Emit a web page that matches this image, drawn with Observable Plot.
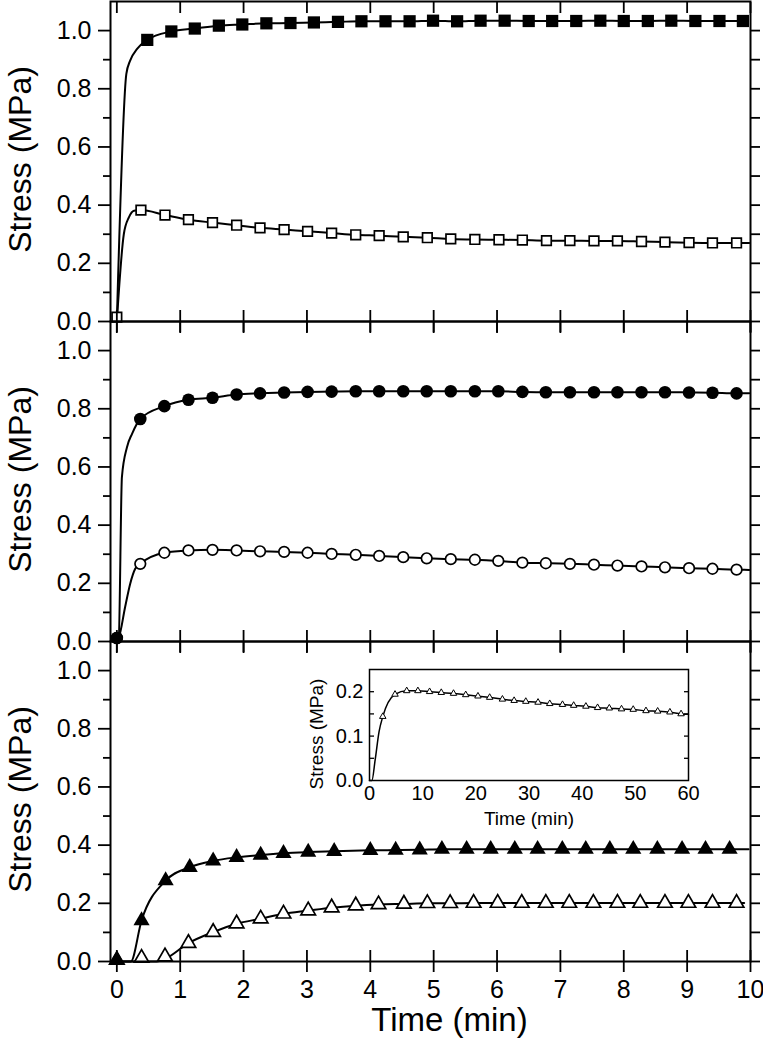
<!DOCTYPE html>
<html><head><meta charset="utf-8">
<script src="https://cdn.jsdelivr.net/npm/d3@7"></script>
<script src="https://cdn.jsdelivr.net/npm/@observablehq/plot@0.6"></script>
<style>
html,body{margin:0;padding:0;background:#fff;}
#chart{position:relative;width:763px;height:1048px;overflow:hidden;background:#fff;}
#chart svg{position:absolute;left:0;}
</style></head><body><div id="chart"></div>
<script>
// ---------- data ----------
const xTickValues = [0,1,2,3,4,5,6,7,8,9,10];
const yMajorTicks = [0,0.2,0.4,0.6,0.8,1.0];
const yMinorTicks = [0.1,0.3,0.5,0.7,0.9];
const yAllTicks = [0,0.1,0.2,0.3,0.4,0.5,0.6,0.7,0.8,0.9,1.0];
const yTitle = "Stress (MPa)";
const xTitle = "Time (min)";

// Panel 1: squares
const sqOpenX = [0,0.38,0.76,1.13,1.51,1.89,2.26,2.64,3.01,3.39,3.77,4.14,4.52,4.90,5.27,5.65,6.03,6.40,6.78,7.15,7.53,7.90,8.28,8.65,9.03,9.40,9.78];
const sqOpenY = [0.015,0.383,0.366,0.350,0.340,0.331,0.322,0.316,0.310,0.304,0.298,0.295,0.291,0.288,0.284,0.282,0.281,0.280,0.278,0.278,0.277,0.277,0.275,0.273,0.271,0.270,0.270];
const sqOpenLeadX = [0,0.11,0.19,0.27];
const sqOpenLeadY = [0,0.30,0.358,0.381];
const sqOpenTailX = [9.98];
const sqOpenTailY = [0.270];

const sqFilledX = [0.48,0.86,1.23,1.61,1.98,2.36,2.74,3.11,3.49,3.86,4.24,4.62,4.99,5.37,5.74,6.12,6.50,6.87,7.25,7.63,8.00,8.38,8.75,9.13,9.51,9.88];
const sqFilledY = [0.968,0.997,1.007,1.017,1.021,1.025,1.026,1.028,1.030,1.032,1.032,1.032,1.034,1.032,1.034,1.034,1.033,1.033,1.033,1.034,1.033,1.033,1.034,1.033,1.033,1.033];
const sqFilledLeadX = [0,0.15,0.21,0.32];
const sqFilledLeadY = [0,0.851,0.897,0.937];

// Panel 2: circles
const circX = [0,0.37,0.75,1.13,1.51,1.89,2.26,2.64,3.01,3.39,3.77,4.14,4.52,4.89,5.27,5.65,6.02,6.40,6.77,7.15,7.53,7.90,8.28,8.65,9.03,9.40,9.78];
const circFilledY = [0.012,0.765,0.809,0.831,0.838,0.849,0.853,0.856,0.858,0.859,0.860,0.860,0.860,0.860,0.860,0.860,0.860,0.858,0.857,0.857,0.857,0.857,0.857,0.857,0.856,0.855,0.853];
const circOpenY = [0.012,0.267,0.305,0.313,0.315,0.313,0.310,0.308,0.305,0.301,0.298,0.294,0.290,0.286,0.283,0.281,0.277,0.271,0.269,0.267,0.264,0.261,0.258,0.255,0.252,0.250,0.247];
const circFilledLeadX = [0,0.03,0.08,0.16,0.24];
const circFilledLeadY = [0.01,0.015,0.565,0.668,0.714];
const circOpenLeadX = [0,0.03,0.13,0.21,0.29];
const circOpenLeadY = [0.01,0.015,0.118,0.198,0.25];
const circFilledTailX = [9.98];
const circFilledTailY = [0.853];
const circOpenTailX = [9.98];
const circOpenTailY = [0.246];

// Panel 3: triangles
const triFilledX = [0,0.39,0.77,1.15,1.52,1.89,2.27,2.63,3.02,3.43,4.00,4.40,4.78,5.13,5.52,5.90,6.28,6.64,7.03,7.40,7.78,8.15,8.53,8.92,9.29,9.67];
const triFilledY = [0.005,0.141,0.278,0.324,0.346,0.358,0.366,0.372,0.376,0.379,0.382,0.383,0.384,0.386,0.386,0.386,0.386,0.386,0.386,0.386,0.386,0.386,0.386,0.386,0.386,0.386];
const triFilledLeadX = [0,0.22];
const triFilledLeadY = [0,0];
const triFilledTailX = [9.97];
const triFilledTailY = [0.386];

const triOpenX = [0,0.39,0.76,1.13,1.52,1.89,2.27,2.63,3.02,3.39,3.77,4.13,4.53,4.90,5.26,5.63,6.01,6.39,6.77,7.14,7.52,7.90,8.26,8.65,9.02,9.40,9.78];
const triOpenY = [0.005,0.012,0.017,0.063,0.101,0.130,0.147,0.164,0.175,0.185,0.192,0.196,0.198,0.200,0.200,0.201,0.201,0.201,0.201,0.201,0.201,0.201,0.201,0.201,0.201,0.201,0.201];
const triOpenLeadX = [0,0.63,0.76];
const triOpenLeadY = [0,0,0.009];
const triOpenTailX = [9.9];
const triOpenTailY = [0.201];

// Inset (60 min)
const insetX = [2.5,4.8,7.0,9.1,11.3,13.5,15.8,18.1,20.4,22.6,25.0,27.2,29.4,31.7,33.9,36.3,38.4,40.7,42.9,45.1,47.4,49.6,52.0,54.2,56.5,58.6];
const insetY = [0.144,0.194,0.202,0.202,0.200,0.198,0.196,0.193,0.190,0.187,0.183,0.180,0.178,0.176,0.173,0.171,0.169,0.167,0.164,0.163,0.161,0.160,0.157,0.156,0.154,0.150];
const insetLeadX = [0,0.45,1.07,1.8];
const insetLeadY = [0,0,0.047,0.11];
const insetTailX = [60];
const insetTailY = [0.149];
const insetXTicks = [0,10,20,30,40,50,60];
const insetYTicks = [0,0.1,0.2];
const insetYInner = [0.05,0.1,0.15,0.2];

// ---------- helpers ----------
const FONT = '"Liberation Sans", Arial, Helvetica, sans-serif';
const pts = (xs, ys) => xs.map((x, i) => ({x, y: ys[i]}));
function curvePts(leadX, leadY, mx, my, tailX = [], tailY = []) {
  const lead = pts(leadX, leadY);
  const m = lead.length ? lead[lead.length - 1].x : -Infinity;
  return [...lead, ...pts(mx, my).filter(d => d.x > m), ...pts(tailX, tailY)];
}
const chart = document.getElementById("chart");
const blank = () => "";

function panel({top, bottom, series, showX}) {
  const mt = 10, mb = showX ? 87 : 14;
  const marks = [];
  for (const s of series) marks.push(Plot.line(s.curve, {x: "x", y: "y", curve: "monotone-x", stroke: "#000", strokeWidth: 2}));
  for (const s of series.filter(s => s.open)) marks.push(Plot.dot(s.markers, {x: "x", y: "y", symbol: s.symbol, r: s.r, fill: "#fff", stroke: "#000", strokeWidth: 1.7}));
  for (const s of series.filter(s => !s.open)) marks.push(Plot.dot(s.markers, {x: "x", y: "y", symbol: s.symbol, r: s.r, fill: "#000", stroke: "none"}));
  marks.push(
    Plot.axisY(yMajorTicks, {anchor: "left", tickSize: 12, tickPadding: 7, tickFormat: d3.format(".1f"), fontSize: 25, label: null, strokeWidth: 1.8}),
    Plot.axisY(yMinorTicks, {anchor: "left", tickSize: 7, tickFormat: blank, label: null, strokeWidth: 1.8}),
    Plot.axisY(yAllTicks, {anchor: "right", tickSize: 9, tickFormat: blank, label: null, strokeWidth: 1.8}),
    Plot.axisX(xTickValues, {anchor: "top", tickSize: 11, dy: 11, tickFormat: blank, label: null, strokeWidth: 1.8}),
    Plot.axisX(xTickValues, {anchor: "bottom", tickSize: 11, dy: -11, tickFormat: blank, label: null, strokeWidth: 1.8}),
    Plot.axisX(xTickValues, {anchor: "bottom", tickSize: 11, tickPadding: 8, tickFormat: showX ? (d => String(d)) : blank, fontSize: 25, label: null, strokeWidth: 1.8}),
    Plot.frame({stroke: "#000", strokeWidth: 2}),
    Plot.text([yTitle], {text: d => d, frameAnchor: "left", textAnchor: "middle", lineAnchor: "middle", rotate: -90, dx: -90, dy: -2, fontSize: 32, fill: "#000"})
  );
  if (showX) marks.push(Plot.text([xTitle], {text: d => d, frameAnchor: "bottom", textAnchor: "middle", lineAnchor: "top", dy: 46, dx: 19, fontSize: 33, fill: "#000"}));
  const svg = Plot.plot({
    width: 763, height: mt + (bottom - top) + mb,
    marginTop: mt, marginBottom: mb, marginLeft: 110, marginRight: 13,
    x: {domain: [-0.1, 10]}, y: {domain: [0, 1.1]},
    style: {background: "transparent", overflow: "visible", fontFamily: FONT, color: "#000"},
    marks
  });
  svg.style.top = (top - mt) + "px";
  chart.appendChild(svg);
}

panel({top: 1, bottom: 321, showX: false, series: [
  {markers: pts(sqOpenX, sqOpenY), curve: curvePts(sqOpenLeadX, sqOpenLeadY, sqOpenX, sqOpenY, sqOpenTailX, sqOpenTailY), symbol: "square", r: 5.4, open: true},
  {markers: pts(sqFilledX, sqFilledY), curve: curvePts(sqFilledLeadX, sqFilledLeadY, sqFilledX, sqFilledY), symbol: "square", r: 6.9, open: false}
]});
panel({top: 321, bottom: 641, showX: false, series: [
  {markers: pts(circX, circOpenY), curve: curvePts(circOpenLeadX, circOpenLeadY, circX, circOpenY, circOpenTailX, circOpenTailY), symbol: "circle", r: 5.3, open: true},
  {markers: pts(circX, circFilledY), curve: curvePts(circFilledLeadX, circFilledLeadY, circX, circFilledY, circFilledTailX, circFilledTailY), symbol: "circle", r: 6.3, open: false}
]});
panel({top: 641, bottom: 961, showX: true, series: [
  {markers: pts(triOpenX, triOpenY), curve: curvePts(triOpenLeadX, triOpenLeadY, triOpenX, triOpenY, triOpenTailX, triOpenTailY), symbol: "triangle", r: 5.4, open: true},
  {markers: pts(triFilledX, triFilledY), curve: curvePts(triFilledLeadX, triFilledLeadY, triFilledX, triFilledY, triFilledTailX, triFilledTailY), symbol: "triangle", r: 6.0, open: false}
]});

// Inset
{
  const ml = 70, mr = 10, mt = 5, mb = 55, fw = 319, fh = 111;
  const svg = Plot.plot({
    width: ml + fw + mr, height: mt + fh + mb,
    marginLeft: ml, marginRight: mr, marginTop: mt, marginBottom: mb,
    x: {domain: [0, 60]}, y: {domain: [0, 0.25]},
    style: {background: "transparent", overflow: "visible", fontFamily: FONT, color: "#000"},
    marks: [
      Plot.line(curvePts(insetLeadX, insetLeadY, insetX, insetY, insetTailX, insetTailY), {x: "x", y: "y", curve: "monotone-x", stroke: "#000", strokeWidth: 1.5}),
      Plot.dot(pts(insetX, insetY), {x: "x", y: "y", symbol: "triangle", r: 2.4, fill: "#fff", stroke: "#000", strokeWidth: 1}),
      Plot.axisY(insetYTicks, {anchor: "left", tickSize: 0, tickPadding: 6, tickFormat: d3.format(".1f"), fontSize: 20, label: null}),
      Plot.axisY(insetYInner, {anchor: "left", tickSize: 5, dx: 5, tickFormat: blank, label: null, strokeWidth: 1.3}),
      Plot.axisY(insetYInner, {anchor: "right", tickSize: 5, dx: -5, tickFormat: blank, label: null, strokeWidth: 1.3}),
      Plot.axisX(insetXTicks, {anchor: "bottom", tickSize: 0, tickPadding: 5, tickFormat: d => String(d), fontSize: 20, label: null}),
      Plot.frame({stroke: "#000", strokeWidth: 1.5}),
      Plot.text([yTitle], {text: d => d, frameAnchor: "left", textAnchor: "middle", lineAnchor: "middle", rotate: -90, dx: -53, dy: 9, fontSize: 19, letterSpacing: "-0.5px", fill: "#000"}),
      Plot.text([xTitle], {text: d => d, frameAnchor: "bottom", textAnchor: "middle", lineAnchor: "top", dy: 31, fontSize: 19, letterSpacing: "-0.8px", fill: "#000"})
    ]
  });
  svg.style.left = (369 - ml) + "px";
  svg.style.top = (669 - mt) + "px";
  chart.appendChild(svg);
}
</script></body></html>
